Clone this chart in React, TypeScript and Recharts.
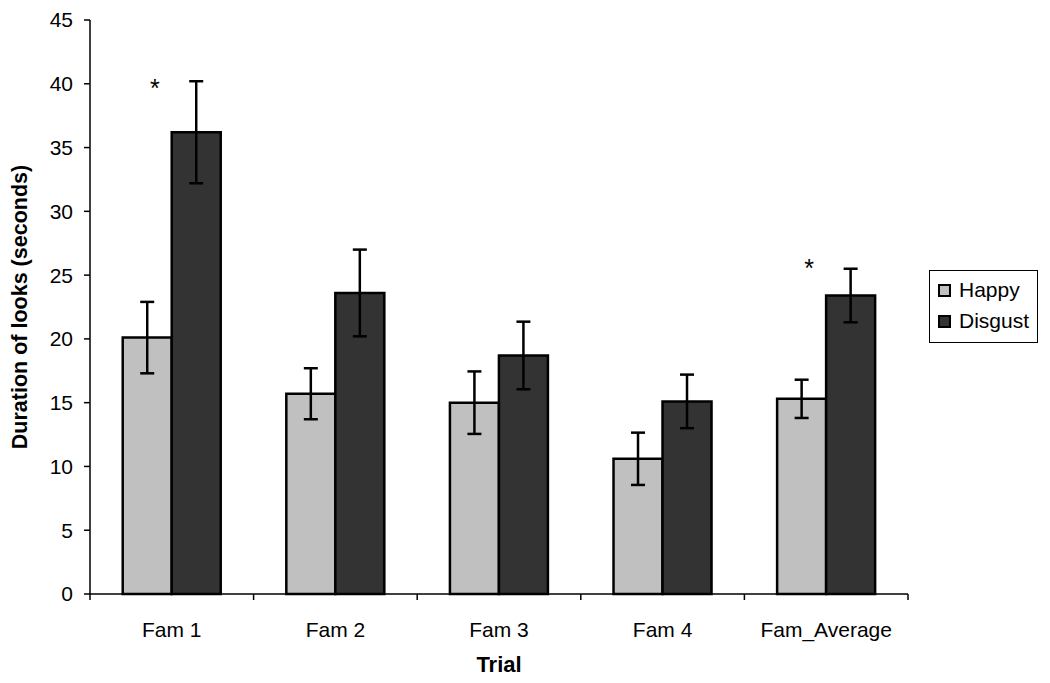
import React from 'react';
import { ComposedChart, Bar, XAxis, YAxis, ErrorBar, Scatter, Label } from 'recharts';

const categories = ['Fam 1', 'Fam 2', 'Fam 3', 'Fam 4', 'Fam_Average'];
const happy = [20.1, 15.7, 15.0, 10.6, 15.3];
const happyErr = [2.8, 2.0, 2.45, 2.05, 1.5];
const disgust = [36.2, 23.6, 18.7, 15.1, 23.4];
const disgustErr = [4.0, 3.4, 2.65, 2.1, 2.1];
const sigMarkY: (number | null)[] = [40.0, null, null, null, 25.9];
const yTicks = [0, 5, 10, 15, 20, 25, 30, 35, 40, 45];

const data = categories.map((c, i) => ({
  name: c,
  Happy: happy[i],
  happyErr: happyErr[i],
  Disgust: disgust[i],
  disgustErr: disgustErr[i],
  sig: sigMarkY[i],
}));

const FONT = 'Liberation Sans, Arial, sans-serif';

const XTick = (props: any) => {
  const { x, y, payload, index } = props;
  const off = payload.offset || 0;
  return (
    <g>
      <line x1={x - off} y1={y - 8} x2={x - off} y2={y - 2} stroke="#000" strokeWidth={1.5} />
      {index === categories.length - 1 && (
        <line x1={x + off} y1={y - 8} x2={x + off} y2={y - 2} stroke="#000" strokeWidth={1.5} />
      )}
      <text x={x} y={y + 35} textAnchor="middle" fontFamily={FONT} fontSize={21} fill="#000">
        {payload.value}
      </text>
    </g>
  );
};

const StarShape = (props: any) => {
  const { cx, cy, payload } = props;
  if (payload.sig == null) return <g />;
  return (
    <text x={cx - 17} y={cy + 13} textAnchor="middle" fontFamily={FONT} fontSize={25} fill="#000">
      *
    </text>
  );
};

const LegendBox = () => (
  <div
    style={{
      position: 'absolute',
      left: 929,
      top: 270,
      width: 109,
      height: 73,
      border: '1.5px solid #000',
      boxSizing: 'border-box',
      fontFamily: FONT,
      fontSize: 21,
      background: '#fff',
    }}
  >
    <div style={{ position: 'absolute', left: 8, top: 7, display: 'flex', alignItems: 'center' }}>
      <span style={{ width: 9, height: 9, background: '#c0c0c0', border: '2px solid #000', display: 'inline-block', marginRight: 8 }} />
      Happy
    </div>
    <div style={{ position: 'absolute', left: 8, top: 38, display: 'flex', alignItems: 'center' }}>
      <span style={{ width: 9, height: 9, background: '#333333', border: '2px solid #000', display: 'inline-block', marginRight: 8 }} />
      Disgust
    </div>
  </div>
);

export default function App() {
  return (
    <div style={{ position: 'absolute', left: 0, top: 0, width: 1050, height: 683, background: '#fff' }}>
      <ComposedChart
        width={1050}
        height={683}
        data={data}
        margin={{ top: 20, right: 142, bottom: 0, left: 0 }}
        barCategoryGap="20%"
        barGap={0}
      >
        <XAxis
          dataKey="name"
          height={89}
          tickLine={false}
          axisLine={{ stroke: '#000', strokeWidth: 1.5 }}
          tick={<XTick />}
          interval={0}
        >
          <Label value="Trial" position="insideBottom" offset={11} style={{ fontFamily: FONT, fontSize: 22, fontWeight: 'bold', fill: '#000' }} />
        </XAxis>
        <YAxis
          width={90}
          domain={[0, 45]}
          ticks={yTicks}
          interval={0}
          tickSize={6}
          tickLine={{ stroke: '#000', strokeWidth: 1.5 }}
          axisLine={{ stroke: '#000', strokeWidth: 1.5 }}
          tick={{ fontFamily: FONT, fontSize: 21, fill: '#000' }}
          tickMargin={11}
        >
          <Label
            value="Duration of looks (seconds)"
            angle={-90}
            position="insideLeft"
            offset={19}
            style={{ textAnchor: 'middle', fontFamily: FONT, fontSize: 21.5, fontWeight: 'bold', fill: '#000' }}
          />
        </YAxis>
        <Bar dataKey="Happy" fill="#c0c0c0" stroke="#000" strokeWidth={2.5} isAnimationActive={false}>
          <ErrorBar dataKey="happyErr" width={7} stroke="#000" strokeWidth={2.5} />
        </Bar>
        <Bar dataKey="Disgust" fill="#333333" stroke="#000" strokeWidth={2.5} isAnimationActive={false}>
          <ErrorBar dataKey="disgustErr" width={7} stroke="#000" strokeWidth={2.5} />
        </Bar>
        <Scatter dataKey="sig" shape={<StarShape />} isAnimationActive={false} legendType="none" />
      </ComposedChart>
      <LegendBox />
    </div>
  );
}
